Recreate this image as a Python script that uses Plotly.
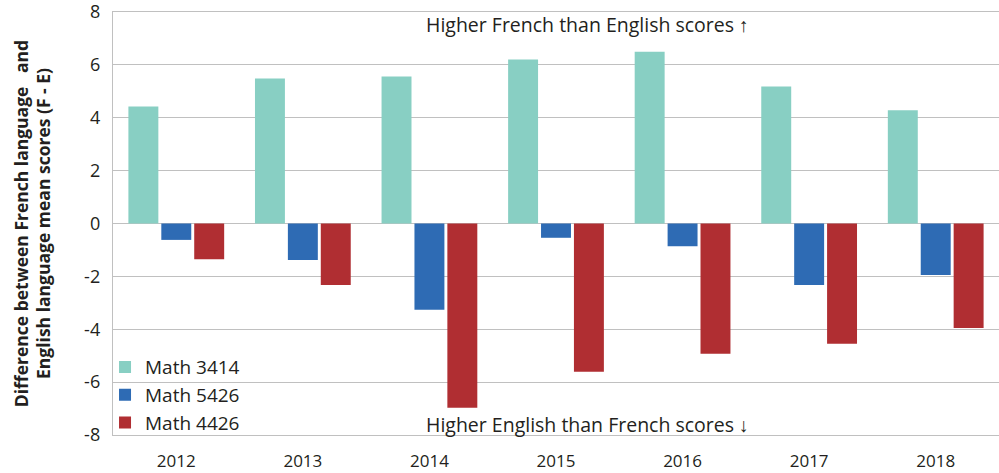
import plotly.graph_objects as go

years = ["2012", "2013", "2014", "2015", "2016", "2017", "2018"]
math_3414 = [4.43, 5.48, 5.56, 6.2, 6.5, 5.18, 4.28]
math_5426 = [-0.62, -1.38, -3.26, -0.54, -0.86, -2.33, -1.95]
math_4426 = [-1.35, -2.33, -6.97, -5.61, -4.93, -4.55, -3.95]
y_ticks = [-8, -6, -4, -2, 0, 2, 4, 6, 8]

series = [
    ("Math 3414", math_3414, "#88cfc3"),
    ("Math 5426", math_5426, "#2e6bb4"),
    ("Math 4426", math_4426, "#b02e32"),
]

font = "Open Sans, Noto Sans, sans-serif"
grid = "#c0c0c0"

fig = go.Figure()
for name, vals, color in series:
    fig.add_bar(x=years, y=vals, name=name, marker=dict(color=color, line_width=0))

fig.add_annotation(
    x=0.535, y=8, xref="paper", yref="y", yanchor="top", showarrow=False, yshift=3,
    text="Higher French than English scores \u2191",
    font=dict(size=19.5, color="#231f20", family=font),
)
fig.add_annotation(
    x=0.535, y=-8, xref="paper", yref="y", yanchor="bottom", showarrow=False, yshift=-5,
    text="Higher English than French scores \u2193",
    font=dict(size=19.5, color="#231f20", family=font),
)

fig.update_layout(
    width=999, height=473,
    margin=dict(l=113, r=0, t=11.5, b=37.5, autoexpand=False),
    plot_bgcolor="white", paper_bgcolor="white",
    font=dict(family=font, size=17, color="#231f20"),
    barmode="group", bargap=0.22, bargroupgap=0.09,
    showlegend=True,
    legend=dict(
        x=-0.009, y=-0.017, xanchor="left", yanchor="bottom",
        bgcolor="rgba(0,0,0,0)", font=dict(size=19),
        itemwidth=30, tracegroupgap=0,
    ),
    xaxis=dict(
        showgrid=False, showline=True, mirror=True, linecolor=grid, linewidth=1.4,
        ticks="", tickfont=dict(size=17), ticklabelstandoff=10,
        ticklabeloverflow="allow", automargin=False,
    ),
    yaxis=dict(
        range=[-8, 8], tickvals=y_ticks, ticktext=[str(v) for v in y_ticks],
        showgrid=True, gridcolor=grid, gridwidth=1.4,
        zeroline=True, zerolinecolor=grid, zerolinewidth=1.4,
        showline=True, linecolor=grid, linewidth=1.4,
        ticks="", tickfont=dict(size=18), ticklabelstandoff=8,
        ticklabeloverflow="allow", automargin=False,
        title=dict(
            text="<b>Difference between French language   and<br>English language mean scores (F - E)</b>",
            font=dict(size=17.5), standoff=28,
        ),
    ),
)

fig.write_html(
    "out.html",
    config={"displayModeBar": False},
    post_script="document.body.style.margin = '0';",
)
